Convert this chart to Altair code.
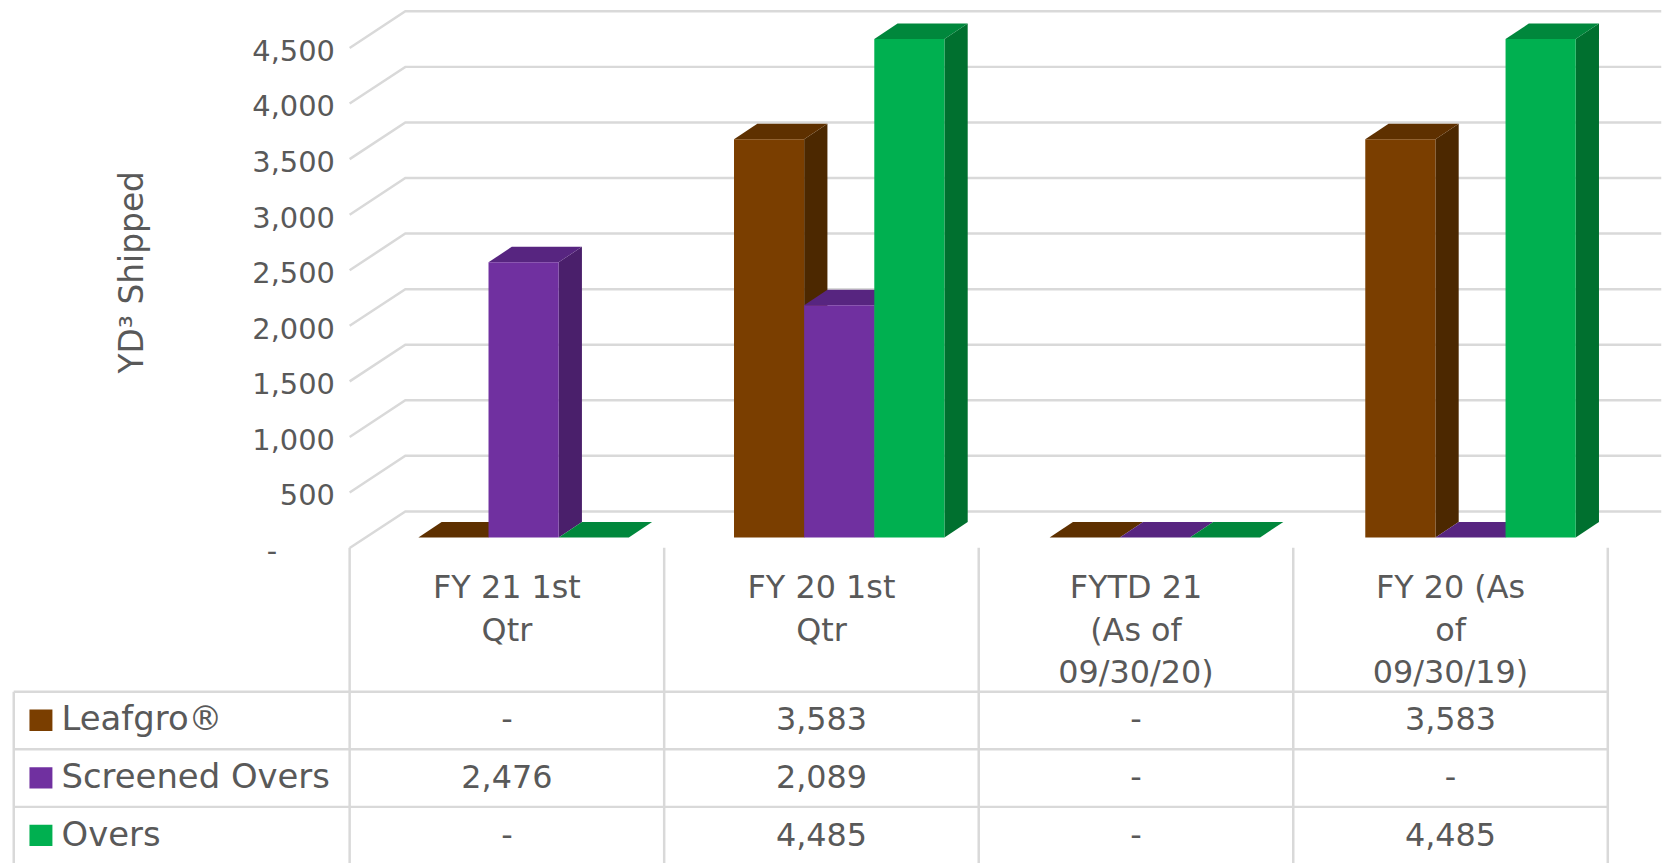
import altair as alt
import pandas as pd

categories = ["FY 21 1st Qtr", "FY 20 1st Qtr", "FYTD 21 (As of 09/30/20)", "FY 20 (As of 09/30/19)"]
header_lines = [["FY 21 1st", "Qtr"], ["FY 20 1st", "Qtr"], ["FYTD 21", "(As of", "09/30/20)"], ["FY 20 (As", "of", "09/30/19)"]]
series = ["Leafgro®", "Screened Overs", "Overs"]
leafgro = [0, 3583, 0, 3583]
screened = [2476, 2089, 0, 0]
overs = [0, 4485, 0, 4485]
values = [leafgro, screened, overs]
ticks = [0, 500, 1000, 1500, 2000, 2500, 3000, 3500, 4000, 4500]
front = ["#7A3E00", "#7030A0", "#00B050"]
top = ["#5E3000", "#572580", "#00873C"]
side = ["#4C2800", "#4A1F6B", "#00702F"]

FONT = "DejaVu Sans"
FS = 32
TXT = "#595959"
LINE = "#D9D9D9"
BAR_STEP, BAR_LEFT, BAR_W = 1.0035, 0.2185, 0.223
DX, DY = 0.074, 140
WALL_X, WALL_DY, FLOOR_DY, WALL_END = 0.177, 235, -95, 4.17

X = alt.Scale(domain=[0, 4], range=[343.3, 1607.5])
Y = alt.Scale(domain=[0, 4500], range=[530, 27.5])
R = alt.Scale(domain=[0, 3], range=[685, 858.5])

polys, fronts = [], []
for s, vals in enumerate(values):
    for c, v in enumerate(vals):
        xl = c * BAR_STEP + BAR_LEFT + s * BAR_W
        xr = xl + BAR_W
        fronts.append(dict(o=s, xl=xl, xr=xr, v=v, col=front[s]))
        pid = f"{s}-{c}"
        polys += [
            dict(p="s" + pid, x=xr, y=0, y2=v, col=side[s]),
            dict(p="s" + pid, x=xr + DX, y=DY, y2=v + DY, col=side[s]),
            dict(p="t" + pid, x=xl, y=v, y2=v, col=top[s]),
            dict(p="t" + pid, x=xl + DX, y=v, y2=v + DY, col=top[s]),
            dict(p="t" + pid, x=xr, y=v, y2=v + DY, col=top[s]),
            dict(p="t" + pid, x=xr + DX, y=v + DY, y2=v + DY, col=top[s]),
        ]

grid = []
for t in ticks:
    grid += [dict(t=t, o=0, x=0, y=t + FLOOR_DY), dict(t=t, o=1, x=WALL_X, y=t + WALL_DY), dict(t=t, o=2, x=WALL_END, y=t + WALL_DY)]

grid_layer = alt.Chart(pd.DataFrame(grid)).mark_line(color=LINE, strokeWidth=2.5).encode(
    x=alt.X("x:Q", scale=X, axis=None),
    y=alt.Y("y:Q", scale=Y, axis=alt.Axis(
        values=ticks, title="YD³ Shipped", offset=-328, domain=False, ticks=False, grid=False,
        labelPadding={"condition": {"test": "datum.value == 0", "value": 58}, "value": 0},
        labelOffset=14, labelFont=FONT, labelFontSize=29, labelColor=TXT,
        labelExpr="datum.value == 0 ? '-' : format(datum.value, ',')",
        titleFont=FONT, titleFontSize=33, titleFontWeight="normal", titleColor=TXT,
        titleX=-203, titleY=263, titleBaseline="middle", titleAlign="center")),
    detail="t:N", order="o:Q")

poly_layer = alt.Chart(pd.DataFrame(polys)).mark_area(opacity=1).encode(
    x=alt.X("x:Q", scale=X, axis=None),
    y=alt.Y("y:Q", scale=Y, axis=None),
    y2="y2:Q",
    detail="p:N",
    color=alt.Color("col:N", scale=None))

front_layer = alt.Chart(pd.DataFrame(fronts)).mark_rect().encode(
    x=alt.X("xl:Q", scale=X, axis=None), x2="xr:Q",
    y=alt.Y("v:Q", scale=Y, axis=None), y2=alt.Y2(datum=0),
    color=alt.Color("col:N", scale=None), order="o:Q")

T_LEFT = -1.068
T_TOP = -2.5
T_BOTTOM = 3.2
hr = pd.DataFrame([dict(a=T_LEFT, b=4, r=r) for r in [0, 1, 2]])
vr = pd.DataFrame([dict(x=c, a=T_TOP, b=T_BOTTOM) for c in range(5)] + [dict(x=T_LEFT, a=0, b=T_BOTTOM)])

hr_layer = alt.Chart(hr).mark_rule(color=LINE, strokeWidth=2.5).encode(
    x=alt.X("a:Q", scale=X, axis=None), x2="b:Q", y=alt.Y("r:Q", scale=R, axis=None))
vr_layer = alt.Chart(vr).mark_rule(color=LINE, strokeWidth=2.5).encode(
    x=alt.X("x:Q", scale=X, axis=None), y=alt.Y("a:Q", scale=R, axis=None), y2="b:Q")

LINE_Y = [-1.81, -1.06, -0.32]
head = []
for c, lines in enumerate(header_lines):
    for i, l in enumerate(lines):
        head.append(dict(x=c + 0.5, r=LINE_Y[i], t=l))
cells = []
for s, vals in enumerate(values):
    for c, v in enumerate(vals):
        cells.append(dict(x=c + 0.5, r=s + 0.5, t=f"{v:,}" if v else "-"))
text_layer = alt.Chart(pd.DataFrame(head + cells)).mark_text(font=FONT, fontSize=FS, color=TXT, align="center", baseline="middle").encode(
    x=alt.X("x:Q", scale=X, axis=None), y=alt.Y("r:Q", scale=R, axis=None), text="t:N")

LEG_X, KEY_X0, KEY_X1 = -0.916, -1.018, -0.945
leg = pd.DataFrame([dict(x=LEG_X, x0=KEY_X0, x1=KEY_X1, r=s + 0.5, r0=s + 0.31, r1=s + 0.68, t=n, col=front[s]) for s, n in enumerate(series)])
leg_text = alt.Chart(leg).mark_text(font=FONT, fontSize=34, color=TXT, align="left", baseline="middle").encode(
    x=alt.X("x:Q", scale=X, axis=None), y=alt.Y("r:Q", scale=R, axis=None), text="t:N")
leg_key = alt.Chart(leg).mark_rect().encode(
    x=alt.X("x0:Q", scale=X, axis=None), x2="x1:Q",
    y=alt.Y("r0:Q", scale=R, axis=None), y2="r1:Q",
    color=alt.Color("col:N", scale=None))

chart = alt.layer(grid_layer, poly_layer, front_layer, hr_layer, vr_layer, text_layer, leg_key, leg_text).resolve_scale(y="independent").properties(
    width=1666, height=855, padding=0, autosize=alt.AutoSizeParams(type="none"),
    background="white"
).configure_view(stroke=None)

chart.save("out.html", embed_options={"renderer": "svg", "actions": False})
